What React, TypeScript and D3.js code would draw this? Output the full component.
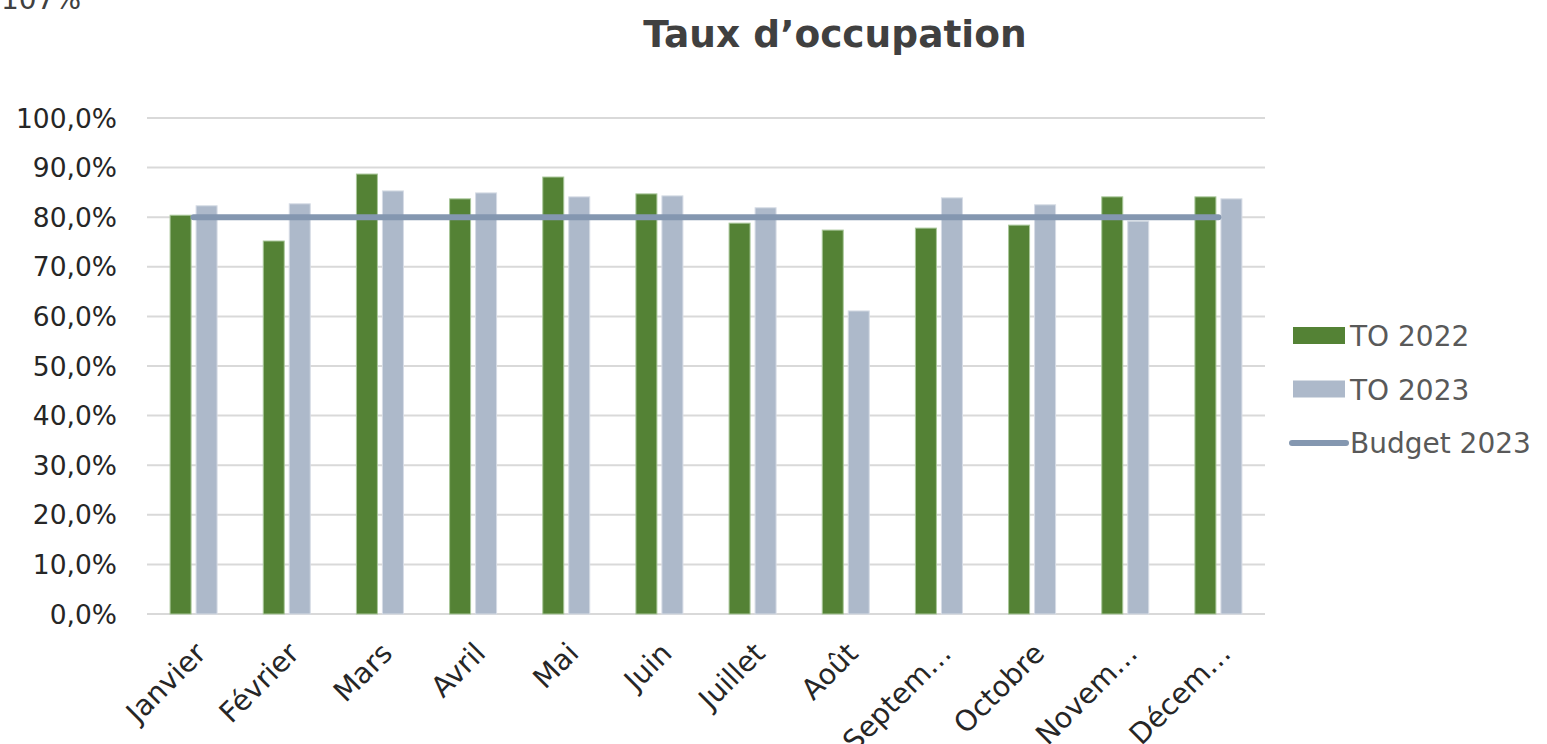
import React from "react";
import * as d3 from "d3";

const months = ["Janvier", "Février", "Mars", "Avril", "Mai", "Juin", "Juillet", "Août", "Septem…", "Octobre", "Novem…", "Décem…"];
const to2022 = [80.4, 75.2, 88.7, 83.7, 88.1, 84.7, 78.8, 77.4, 77.8, 78.4, 84.1, 84.1];
const to2023 = [82.3, 82.7, 85.3, 84.9, 84.1, 84.3, 81.9, 61.1, 83.9, 82.5, 79.2, 83.7];
const budget2023 = [80, 80, 80, 80, 80, 80, 80, 80, 80, 80, 80, 80];
const yTicks = [0, 10, 20, 30, 40, 50, 60, 70, 80, 90, 100];
const legendItems = ["TO 2022", "TO 2023", "Budget 2023"];

const W = 1547, H = 744;
const FONT = "'Century Gothic', 'DejaVu Sans', sans-serif";

export default function App() {
  const x = d3.scaleBand<string>().domain(months).range([147, 1265]).paddingInner(0).paddingOuter(0);
  const y = d3.scaleLinear().domain([0, 100]).range([614, 118]);
  const bw = 21;
  const gap = 5;
  const line = d3
    .line<number>()
    .x((_, i) => (x(months[i]) as number) + x.bandwidth() / 2)
    .y((d) => y(d));
  const fmt = (v: number) => v.toFixed(1).replace(".", ",") + "%";

  return (
    <svg width={W} height={H} style={{ position: "absolute", left: 0, top: 0, background: "#fff" }}>
      <text x={1} y={9} fontFamily={FONT} fontSize={28} fill="#404040">107%</text>
      <text x={835} y={47} textAnchor="middle" fontFamily={FONT} fontSize={37.5} fontWeight="bold" fill="#404040">
        Taux d’occupation
      </text>
      {yTicks.map((t) => (
        <g key={t}>
          <line x1={147} x2={1265} y1={y(t)} y2={y(t)} stroke="#d9d9d9" strokeWidth={2} />
          <text x={117} y={y(t)} dy="0.36em" textAnchor="end" fontFamily={FONT} fontSize={26.5} fill="#262626">
            {fmt(t)}
          </text>
        </g>
      ))}
      {months.map((m, i) => {
        const cx = (x(m) as number) + x.bandwidth() / 2;
        return (
          <g key={m}>
            <rect x={cx - gap / 2 - bw} y={y(to2022[i])} width={bw} height={y(0) - y(to2022[i])} fill="#548235" stroke="#a9c79a" strokeWidth={1} />
            <rect x={cx + gap / 2} y={y(to2023[i])} width={bw} height={y(0) - y(to2023[i])} fill="#adb9ca" stroke="#d6dce5" strokeWidth={1} />
            <text
              transform={`translate(${cx + 14},${655}) rotate(-45)`}
              textAnchor="end"
              fontFamily={FONT}
              fontSize={28.5}
              fill="#262626"
            >
              {m}
            </text>
          </g>
        );
      })}
      <path d={line(budget2023) || ""} fill="none" stroke="#8497b0" strokeWidth={6} strokeLinecap="round" />
      {legendItems.map((l, i) => {
        const ly = 336 + i * 53.5;
        return (
          <g key={l}>
            {i < 2 ? (
              <rect x={1293} y={ly - 9} width={52} height={17} fill={i === 0 ? "#548235" : "#adb9ca"} />
            ) : (
              <line x1={1292} x2={1346} y1={ly} y2={ly} stroke="#8497b0" strokeWidth={6} strokeLinecap="round" />
            )}
            <text x={1350} y={ly} dy="0.36em" fontFamily={FONT} fontSize={28} fill="#595959">
              {l}
            </text>
          </g>
        );
      })}
    </svg>
  );
}
